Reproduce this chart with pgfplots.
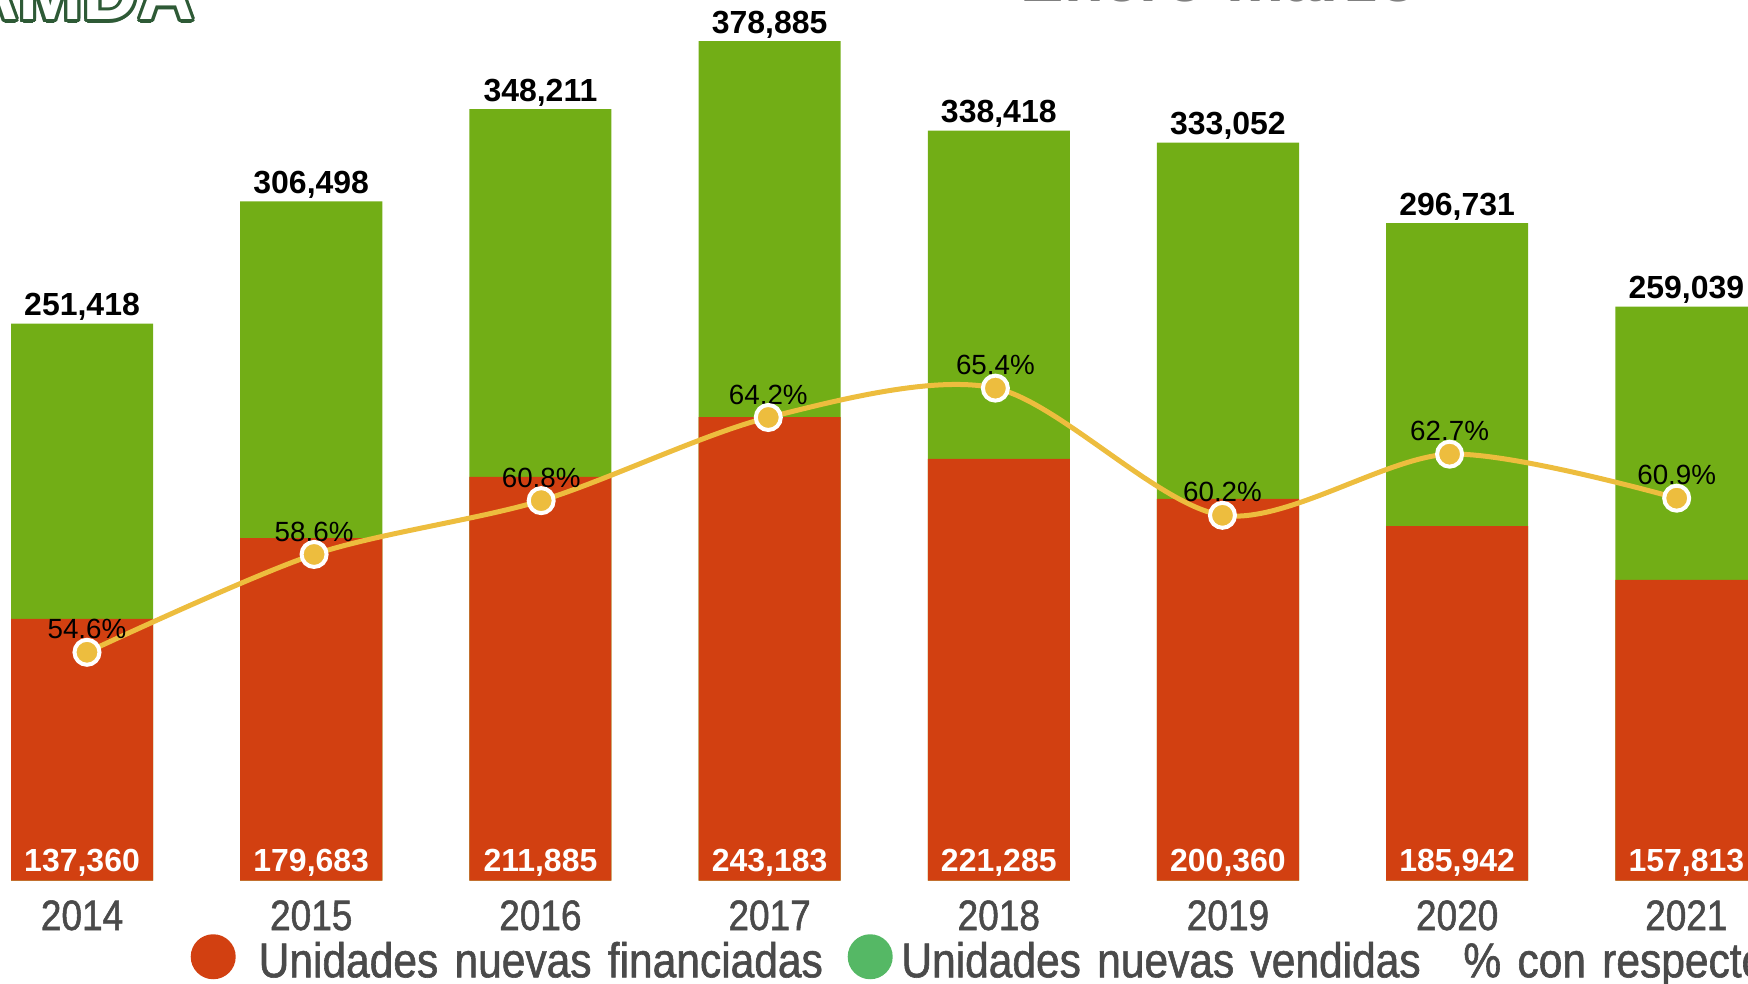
\documentclass[border=0pt]{standalone}
\usepackage{pgfplots}
\usepackage{pgfplotstable}
\usepackage{fontspec}
\usepackage{contour}
\pgfplotsset{compat=1.18}
\setmainfont{Liberation Sans}
\newfontfamily\narrowfont[FakeStretch=0.87,FakeBold=1.2]{Liberation Sans}
\newcommand\leyfont{\narrowfont\fontsize{13.9}{16}\selectfont\spaceskip=0.2em\relax}

\definecolor{rojo}{HTML}{D24011}
\definecolor{verde}{HTML}{72AE16}
\definecolor{verdeleg}{HTML}{55B865}
\definecolor{amarillo}{HTML}{EDBD3E}
\definecolor{gristxt}{HTML}{4A4A4A}
\definecolor{logoverde}{HTML}{2E5A36}

\pgfplotstableread{
x anio total fin pct
0 2014 251418 137360 54.6
1 2015 306498 179683 58.6
2 2016 348211 211885 60.8
3 2017 378885 243183 64.2
4 2018 338418 221285 65.4
5 2019 333052 200360 60.2
6 2020 296731 185942 62.7
7 2021 259039 157813 60.9
}\datos

\pgfplotsset{
  capa/.style={width=174.8mm, height=88.07mm, scale only axis,
    at={(0mm,10.23mm)}, anchor=south west, clip=false,
    xmin=-0.358, xmax=7.269, ymin=0},
  /pgf/number format/assume math mode=true,
}
\tikzset{leyenda/.style={inner sep=0pt, outer sep=0pt, align=left, text width=#1}}

\begin{document}
\begin{tikzpicture}[x=0.1mm,y=0.1mm]
% total vendidas (verde) con etiqueta arriba
\begin{axis}[capa, ymax=397400,
    axis line style={draw=none}, major tick length=0pt, ytick=\empty,
    xtick={0,...,7}, xticklabels={2014,2015,2016,2017,2018,2019,2020,2021},
    xticklabel style={anchor=base, inner sep=0pt, yshift=-4.93mm,
      font=\narrowfont\fontsize{12.1}{14}\selectfont, text=gristxt},
    nodes near coords={\pgfmathprintnumber[fixed,precision=0,1000 sep={,}]{\pgfplotspointmeta}},
    every node near coord/.style={anchor=base, inner sep=0pt, yshift=0.8mm,
      font=\bfseries\fontsize{9.1}{11}\selectfont, text=black}]
  \addplot[ybar, bar width=0.62, fill=verde, draw=none] table[x=x, y=total]{\datos};
\end{axis}
% financiadas (rojo), otra escala
\begin{axis}[capa, ymax=462000, hide axis,
    legend columns=3,
    legend style={at={(0.1087,-0.0600)}, anchor=north west, draw=none, fill=none,
      inner sep=0pt, column sep=0pt,
      /tikz/every odd column/.style={column sep=0pt},
      /tikz/every even column/.style={column sep=0pt},
      cells={anchor=base west, inner sep=0pt, text=gristxt, font=\leyfont}}]
  \addplot[ybar, bar width=0.62, fill=rojo, draw=none, forget plot] table[x=x, y=fin]{\datos};
  \addplot[draw=none, forget plot, point meta=explicit,
    nodes near coords={\pgfmathprintnumber[fixed,precision=0,1000 sep={,}]{\pgfplotspointmeta}},
    every node near coord/.style={anchor=base, inner sep=0pt, yshift=0.9mm,
      font=\bfseries\fontsize{9.1}{11}\selectfont, text=white}]
    table[x=x, y expr=0, meta=fin]{\datos};
  \addlegendimage{legend image code/.code={\path[draw=none,fill=none] (0,0) rectangle (6.8mm,0.1mm);
    \fill[rojo,draw=none] (2.25mm,2.05mm) circle (2.25mm);}}
  \addlegendentry[leyenda=58.9mm]{Unidades nuevas financiadas}
  \addlegendimage{legend image code/.code={\path[draw=none,fill=none] (0,0) rectangle (5.37mm,0.1mm);
    \fill[verdeleg,draw=none] (2.25mm,2.05mm) circle (2.25mm);}}
  \addlegendentry[leyenda=56.2mm]{Unidades nuevas vendidas}
  \addlegendimage{empty legend}
  \addlegendentry[leyenda=40mm]{\% con respecto a ventas}
\end{axis}
% porcentaje
\begin{axis}[capa, xmin=-0.383, xmax=7.314, ymin=45.26, ymax=81.27, hide axis]
  \addplot[draw=none, point meta=explicit,
    nodes near coords={\pgfmathprintnumber[fixed,fixed zerofill,precision=1]{\pgfplotspointmeta}\%},
    every node near coord/.style={anchor=base, inner sep=0pt, yshift=1.34mm,
      font=\fontsize{7.9}{9}\selectfont, text=black}]
    table[x=x, y=pct, meta=pct]{\datos};
  \addplot[smooth, color=amarillo, line width=0.5mm, mark=*, mark size=1.25mm,
    mark options={fill=amarillo, draw=white, line width=0.4mm}]
    table[x=x, y=pct]{\datos};
\end{axis}
% encabezado recortado
\node[anchor=base east, inner sep=0pt, font=\bfseries\fontsize{22}{24}\selectfont]
  at (195,963) {\contourlength{0.9pt}\contour{logoverde}{\textcolor{white}{AMDA}}};
\node[anchor=base west, inner sep=0pt, text=gray, font=\bfseries\fontsize{18.5}{20}\selectfont]
  at (1020,981) {Enero-marzo};
\pgfresetboundingbox
\path[use as bounding box] (0,0) rectangle (1748,983);
\end{tikzpicture}
\end{document}
